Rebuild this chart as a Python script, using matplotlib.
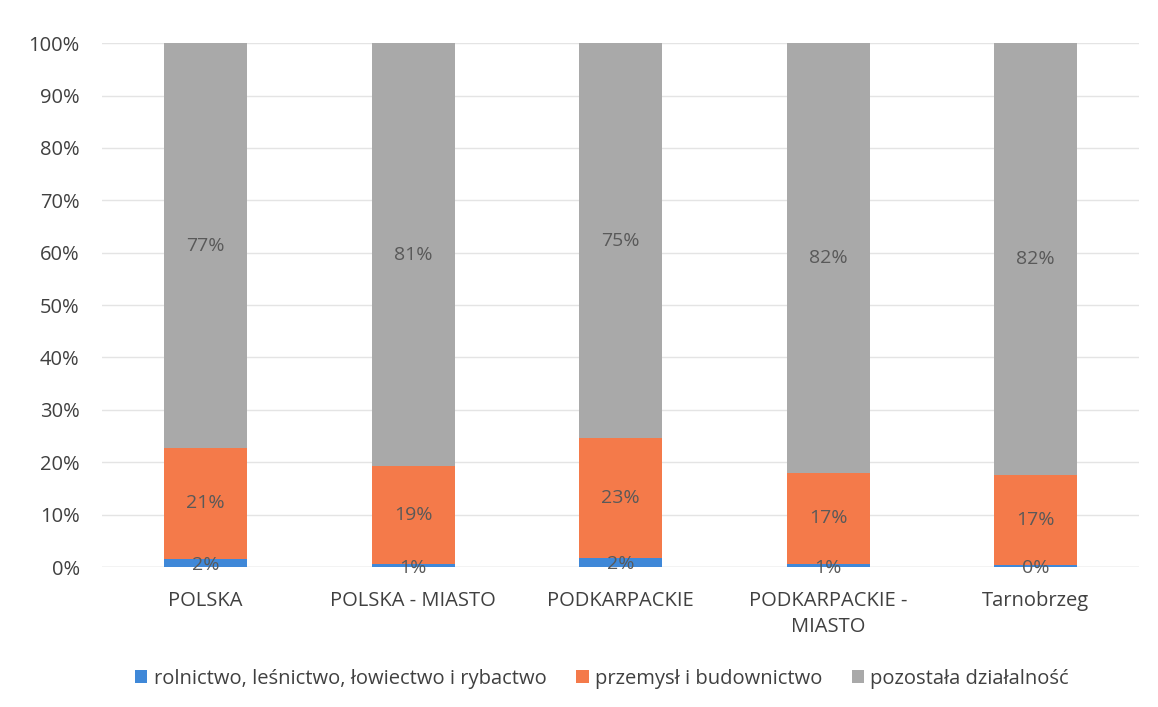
import matplotlib.pyplot as plt
import numpy as np

# data (percent)
categories = ['POLSKA', 'POLSKA - MIASTO', 'PODKARPACKIE', 'PODKARPACKIE -\nMIASTO', 'Tarnobrzeg']
rolnictwo = [1.6, 0.6, 1.8, 0.6, 0.3]
przemysl = [21.1, 18.7, 22.8, 17.4, 17.3]
pozostala = [77.3, 80.7, 75.4, 82.0, 82.4]
series_names = ['rolnictwo, leśnictwo, łowiectwo i rybactwo',
                'przemysł i budownictwo',
                'pozostała działalność']

colors = ['#3f88d8', '#f47a4a', '#a9a9a9']
plt.rcParams['font.family'] = ['Open Sans', 'DejaVu Sans']

fig = plt.figure(figsize=(11.58, 7.07), dpi=100)
ax = fig.add_axes([0.088, 0.198, 0.896, 0.741])

x = np.arange(len(categories))
bottom = np.zeros(len(categories))
for vals, name, col in zip([rolnictwo, przemysl, pozostala], series_names, colors):
    vals = np.array(vals)
    ax.bar(x, vals / 100, width=0.4, bottom=bottom / 100, color=col, label=name, zorder=2)
    for xi, b, v in zip(x, bottom, vals):
        ax.text(xi, (b + v / 2) / 100 - (0.004 if v < 3 else 0), f'{round(v)}%',
                ha='center', va='center', fontsize=14, color='#595959', zorder=3)
    bottom += vals

ax.set_ylim(0, 1)
ax.set_xlim(-0.5, len(categories) - 0.5)
ax.set_yticks(np.arange(0, 1.01, 0.1))
ax.set_yticklabels([f'{int(t)}%' for t in np.arange(0, 101, 10)])
ax.set_xticks(x)
ax.set_xticklabels(categories, linespacing=1.4)
ax.tick_params(axis='both', length=0, labelsize=14.5, labelcolor='#404040')
ax.tick_params(axis='x', pad=17)
ax.tick_params(axis='y', pad=16)
ax.grid(axis='y', color='#e4e4e4', linewidth=1, zorder=0)
for s in ax.spines.values():
    s.set_visible(False)
ax.axhline(0, color='#d9d9d9', linewidth=1, zorder=1)

fig.legend(loc='lower center', bbox_to_anchor=(0.52, 0.0), ncol=3, frameon=False,
           fontsize=14.5, handlelength=0.6, handleheight=0.6, handletextpad=0.3,
           columnspacing=1.5, labelcolor='#404040')

fig.savefig('out.png', dpi=100)
